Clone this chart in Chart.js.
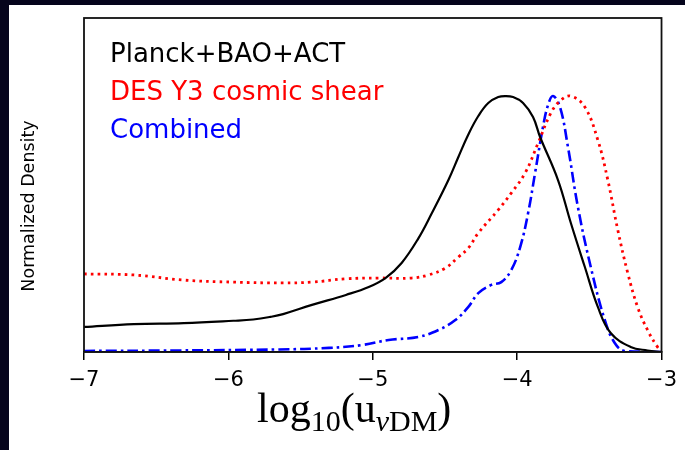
<!DOCTYPE html>
<html>
<head>
<meta charset="utf-8">
<script src="https://cdn.jsdelivr.net/npm/chart.js@4.4.1/dist/chart.umd.min.js"></script>
<style>
  html, body { margin: 0; padding: 0; background: #05041c; }
  canvas { display: block; }
</style>
</head>
<body>
<canvas id="c" width="685" height="450"></canvas>
<script>
// ---- data ----
const seriesNames = ["Planck+BAO+ACT", "DES Y3 cosmic shear", "Combined"];
const xTicks = [-7, -6, -5, -4, -3];

const planckX = [-7.000, -6.655, -6.310, -5.966, -5.828, -5.710, -5.621, -5.421, -5.186, -5.028, -4.910, -4.800, -4.683, -4.593, -4.476, -4.407, -4.338, -4.269, -4.200, -4.131, -4.083, -4.028, -3.959, -3.890, -3.841, -3.717, -3.628, -3.531, -3.441, -3.352, -3.214, -3.097, -3.000];
const planckY = [0.098, 0.109, 0.113, 0.122, 0.127, 0.137, 0.148, 0.184, 0.223, 0.254, 0.290, 0.348, 0.445, 0.540, 0.672, 0.762, 0.850, 0.922, 0.973, 0.996, 1.000, 0.996, 0.973, 0.918, 0.840, 0.672, 0.504, 0.332, 0.176, 0.074, 0.020, 0.006, 0.000];

const desX = [-7.000, -6.655, -6.310, -5.966, -5.621, -5.421, -5.186, -4.959, -4.731, -4.614, -4.497, -4.407, -4.338, -4.269, -4.131, -4.041, -3.945, -3.855, -3.766, -3.697, -3.628, -3.531, -3.441, -3.372, -3.303, -3.234, -3.166, -3.097, -3.028, -3.000];
const desY = [0.305, 0.301, 0.281, 0.273, 0.270, 0.273, 0.286, 0.289, 0.289, 0.301, 0.328, 0.371, 0.406, 0.465, 0.555, 0.621, 0.699, 0.816, 0.934, 0.984, 1.000, 0.957, 0.828, 0.672, 0.477, 0.309, 0.176, 0.086, 0.020, 0.004];

const combX = [-7.000, -6.338, -5.648, -5.303, -5.076, -4.890, -4.683, -4.545, -4.428, -4.338, -4.269, -4.179, -4.110, -4.041, -3.979, -3.924, -3.876, -3.821, -3.786, -3.752, -3.703, -3.648, -3.579, -3.490, -3.393, -3.324, -3.255, -3.000];
const combY = [0.004, 0.006, 0.010, 0.016, 0.027, 0.047, 0.059, 0.086, 0.125, 0.176, 0.230, 0.262, 0.273, 0.320, 0.410, 0.543, 0.699, 0.879, 0.965, 1.000, 0.957, 0.801, 0.566, 0.332, 0.125, 0.035, 0.004, 0.000];

const toPts = (xs, ys) => xs.map((x, i) => ({ x: x, y: ys[i] }));

// ---- plugins ----
const bgPlugin = {
  id: 'bg',
  beforeDraw(chart) {
    const ctx = chart.ctx;
    ctx.save();
    ctx.fillStyle = '#05041c';
    ctx.fillRect(0, 0, chart.width, chart.height);
    ctx.fillStyle = '#ffffff';
    ctx.fillRect(9, 5, chart.width - 9, chart.height - 5);
    ctx.restore();
  }
};

const decoPlugin = {
  id: 'deco',
  afterDraw(chart) {
    const ctx = chart.ctx;
    const a = chart.chartArea;
    ctx.save();
    // frame
    ctx.strokeStyle = '#111';
    ctx.lineWidth = 1.8;
    ctx.strokeRect(a.left, a.top, a.right - a.left, a.bottom - a.top);

    // legend texts
    ctx.font = '26px "DejaVu Sans"';
    ctx.textBaseline = 'alphabetic';
    ctx.textAlign = 'left';
    const cols = ['#000000', '#ff0000', '#0000ff'];
    const ys = [62, 100, 138];
    seriesNames.forEach((n, i) => {
      ctx.fillStyle = cols[i];
      ctx.fillText(n, 110, ys[i]);
    });

    // y label
    ctx.fillStyle = '#000';
    ctx.font = '17.5px "DejaVu Sans"';
    ctx.translate(29, 206);
    ctx.rotate(-Math.PI / 2);
    ctx.textAlign = 'center';
    ctx.textBaseline = 'middle';
    ctx.fillText('Normalized Density', 0, 0);
    ctx.restore();

    // x label: log10(u_{nu DM})
    ctx.save();
    ctx.fillStyle = '#000';
    ctx.textBaseline = 'alphabetic';
    ctx.textAlign = 'left';
    const big = '42px "Liberation Serif"';
    const small = '30px "Liberation Serif"';
    const smallIt = 'italic 30px "Liberation Serif"';
    const base = 422, sub = 431;
    let x = 257;
    const put = (t, f, y) => { ctx.font = f; ctx.fillText(t, x, y); x += ctx.measureText(t).width; };
    put('log', big, base);
    put('10', small, sub);
    put('(u', big, base);
    put('\u03bd', smallIt, sub);
    put('DM', small, sub);
    put(')', big, base);
    ctx.restore();
  }
};

new Chart(document.getElementById('c'), {
  type: 'line',
  data: {
    datasets: [
      {
        label: seriesNames[0],
        data: toPts(planckX, planckY),
        borderColor: '#000000',
        borderWidth: 2.2,
        pointRadius: 0,
        tension: 0.4,
        fill: false
      },
      {
        label: seriesNames[1],
        data: toPts(desX, desY),
        borderColor: '#ff0000',
        borderWidth: 2.8,
        borderDash: [2.6, 4.2],
        borderCapStyle: 'butt',
        pointRadius: 0,
        tension: 0.4,
        fill: false
      },
      {
        label: seriesNames[2],
        data: toPts(combX, combY),
        borderColor: '#0000ff',
        borderWidth: 2.6,
        borderDash: [11, 4, 2.6, 4],
        borderCapStyle: 'butt',
        pointRadius: 0,
        tension: 0.4,
        fill: false
      }
    ]
  },
  options: {
    responsive: false,
    devicePixelRatio: 1,
    animation: false,
    layout: { padding: { top: 18, right: 21, left: 0, bottom: 0 } },
    plugins: { legend: { display: false }, tooltip: { enabled: false } },
    scales: {
      x: {
        type: 'linear',
        min: -7,
        max: -3,
        afterBuildTicks: (s) => { s.ticks = xTicks.map(v => ({ value: v })); },
        afterFit: (s) => { s.height = 98; },
        ticks: {
          color: '#000',
          font: { family: 'DejaVu Sans', size: 21 },
          padding: 8,
          maxRotation: 0,
          callback: (v) => (v < 0 ? '\u2212' + Math.abs(v) : String(v))
        },
        grid: { drawOnChartArea: false, drawTicks: true, tickLength: 8, color: '#000', lineWidth: 1.5 },
        border: { display: true, color: '#000', width: 1.5 }
      },
      y: {
        min: 0,
        max: 1.305,
        afterFit: (s) => { s.width = 84; },
        ticks: { display: false },
        grid: { display: false, drawTicks: false },
        border: { display: false }
      }
    }
  },
  plugins: [bgPlugin, decoPlugin]
});
</script>
</body>
</html>
